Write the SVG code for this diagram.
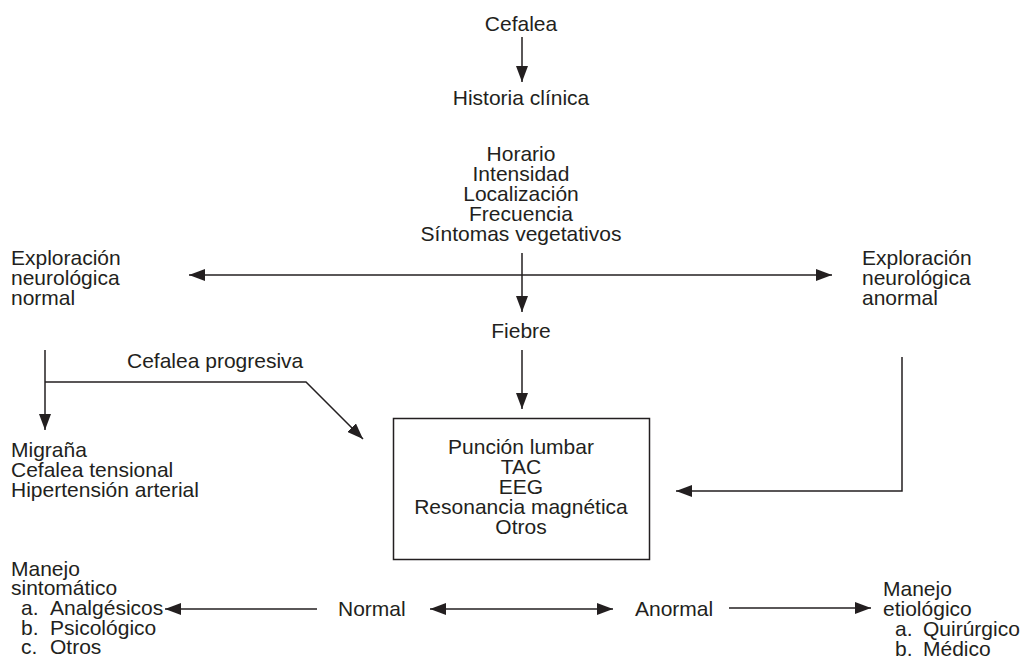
<svg xmlns="http://www.w3.org/2000/svg" width="1024" height="660" viewBox="0 0 1024 660">
<style>
text{font-family:"Liberation Sans",Arial,sans-serif;font-size:21px;fill:#231f20}
.c{text-anchor:middle}
.ln{stroke:#231f20;stroke-width:1.5;fill:none}
.ar{marker-end:url(#ah)}
.ab{marker-start:url(#ahs);marker-end:url(#ah)}
</style>
<defs>
<marker id="ah" markerUnits="userSpaceOnUse" markerWidth="17" markerHeight="12" refX="16" refY="6" orient="auto"><path d="M0,0 L16,6 L0,12 z" fill="#231f20"/></marker>
<marker id="ahs" markerUnits="userSpaceOnUse" markerWidth="17" markerHeight="12" refX="0" refY="6" orient="auto"><path d="M16,0 L0,6 L16,12 z" fill="#231f20"/></marker>
</defs>
<rect width="1024" height="660" fill="#fff"/>
<g id="connectors">
<line class="ln ar" x1="522" y1="37" x2="522" y2="82"/>
<line class="ln ab" x1="189" y1="275" x2="832" y2="275"/>
<line class="ln ar" x1="522" y1="253" x2="522" y2="312"/>
<line class="ln ar" x1="522" y1="350" x2="522" y2="409"/>
<line class="ln ar" x1="45" y1="350" x2="45" y2="430"/>
<polyline class="ln ar" points="45,382 306,382 363,439"/>
<polyline class="ln ar" points="902,357 902,491 676,491"/>
<line class="ln ar" x1="317" y1="609" x2="165" y2="609"/>
<line class="ln ab" x1="430" y1="609" x2="613" y2="609"/>
<line class="ln ar" x1="729" y1="608" x2="871" y2="608"/>
</g>
<g id="cefalea"><text class="c" x="521" y="31">Cefalea</text></g>
<g id="historia"><text class="c" x="521" y="105">Historia clínica</text></g>
<g id="items">
<text class="c" x="521" y="161">Horario</text>
<text class="c" x="521" y="181">Intensidad</text>
<text class="c" x="521" y="201">Localización</text>
<text class="c" x="521" y="221">Frecuencia</text>
<text class="c" x="521" y="241">Síntomas vegetativos</text>
</g>
<g id="expl-normal">
<text x="11" y="265">Exploración</text>
<text x="11" y="285">neurológica</text>
<text x="11" y="305">normal</text>
</g>
<g id="expl-anormal">
<text x="862" y="265">Exploración</text>
<text x="862" y="285">neurológica</text>
<text x="862" y="305">anormal</text>
</g>
<g id="fiebre"><text class="c" x="521" y="338">Fiebre</text></g>
<g id="progresiva"><text x="127" y="368">Cefalea progresiva</text></g>
<g id="diagnosticos">
<text x="11" y="457">Migraña</text>
<text x="11" y="477">Cefalea tensional</text>
<text x="11" y="497">Hipertensión arterial</text>
</g>
<g id="estudios">
<rect x="393.5" y="418.5" width="256" height="141" fill="none" stroke="#231f20" stroke-width="1.5"/>
<text class="c" x="521" y="454">Punción lumbar</text>
<text class="c" x="521" y="474">TAC</text>
<text class="c" x="521" y="494">EEG</text>
<text class="c" x="521" y="514">Resonancia magnética</text>
<text class="c" x="521" y="534">Otros</text>
</g>
<g id="normal"><text x="338" y="616">Normal</text></g>
<g id="anormal"><text x="635" y="616">Anormal</text></g>
<g id="manejo-sintomatico">
<text x="11" y="576">Manejo</text>
<text x="11" y="595">sintomático</text>
<text x="21" y="615">a.<tspan x="50">Analgésicos</tspan></text>
<text x="21" y="635">b.<tspan x="50">Psicológico</tspan></text>
<text x="21" y="654">c.<tspan x="50">Otros</tspan></text>
</g>
<g id="manejo-etiologico">
<text x="883" y="596">Manejo</text>
<text x="883" y="616">etiológico</text>
<text x="895" y="636">a.<tspan x="923">Quirúrgico</tspan></text>
<text x="895" y="656">b.<tspan x="923">Médico</tspan></text>
</g>
</svg>
